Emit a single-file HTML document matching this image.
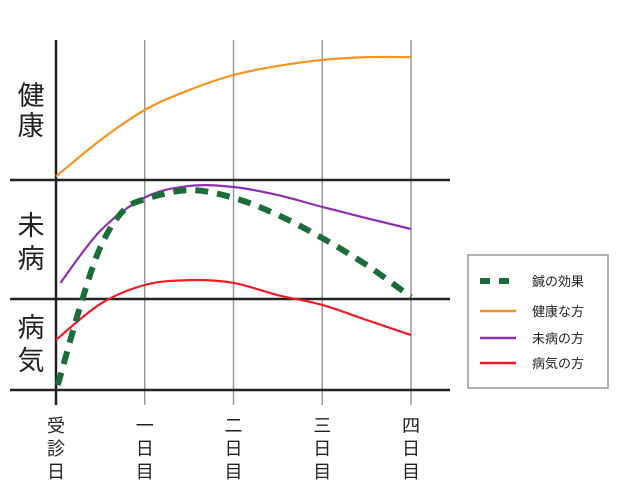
<!DOCTYPE html>
<html><head><meta charset="utf-8"><style>
body{margin:0;background:#fff;}
svg{display:block;font-family:"Liberation Sans","Noto Sans CJK JP",sans-serif;}
</style></head><body>
<svg id="chart" width="620" height="504" viewBox="0 0 620 504" xmlns="http://www.w3.org/2000/svg">
<g id="grid"></g>
<g id="series"></g>
<g id="labels"></g>
<g>
<rect x="468" y="255" width="140" height="133" fill="#fff" stroke="#999" stroke-width="1.5"/>
<line x1="480" y1="281" x2="516" y2="281" stroke="#1b6e3c" stroke-width="6" stroke-dasharray="10,9"/>
<text x="532" y="286" font-size="13" fill="#222">鍼の効果</text>
<line x1="480" y1="311" x2="516" y2="311" stroke="#f7931e" stroke-width="2.5"/>
<text x="532" y="316" font-size="13" fill="#222">健康な方</text>
<line x1="480" y1="338" x2="516" y2="338" stroke="#8e2fb0" stroke-width="2.5"/>
<text x="532" y="343" font-size="13" fill="#222">未病の方</text>
<line x1="480" y1="363" x2="516" y2="363" stroke="#ee1c25" stroke-width="2.5"/>
<text x="532" y="368" font-size="13" fill="#222">病気の方</text>
</g>
</svg>
<script>
const xCategories = ["受診日","一日目","二日目","三日目","四日目"];
const healthyX = [0,0.5,1,1.5,2,2.5,3,3.5,4];
const healthyY = [61,71.4,80,85.7,90,92.6,94.3,95.1,95.1];
const mibyoX = [0.05,0.5,1,1.5,2,2.5,3,3.5,4];
const mibyoY = [30.6,45.5,55,58.3,58,55.7,52.3,49.1,46];
const sickX = [0,0.5,1,1.5,2,2.5,3,3.5,4];
const sickY = [14.3,24.6,30,31.4,30.6,27.1,24.3,20,15.7];
const effectX = [0.02,0.27,0.5,0.75,1,1.5,2,2.5,3,3.5,4];
const effectY = [1.4,23.7,40.8,51,54.5,57.1,54.9,50,43.4,35.7,26.6];
const bandLines = [60,26,0];

const NS="http://www.w3.org/2000/svg";
const X0=56,DX=88.75,Y0=390,K=3.5;
function xs(d){return X0+d*DX;}
function ys(v){return Y0-v*K;}
function mk(tag,attrs,parent){const e=document.createElementNS(NS,tag);for(const k in attrs)e.setAttribute(k,attrs[k]);parent.appendChild(e);return e;}
const grid=document.getElementById('grid'),series=document.getElementById('series'),labels=document.getElementById('labels');
xCategories.forEach((c,i)=>{
  if(i>0){const l=mk('line',{x1:xs(i),y1:40,x2:xs(i),y2:405,stroke:'#999','stroke-width':1.5},grid);
  
  }
  const t=mk('text',{'font-size':18,fill:'#222','text-anchor':'middle'},labels);
  
  
  [...c].forEach((ch,j)=>{const ts=mk('tspan',{x:xs(i),y:432+j*23},t);ts.textContent=ch;});
});
bandLines.forEach((v,i)=>{const l=mk('line',{x1:10,y1:ys(v),x2:450,y2:ys(v),stroke:'#222','stroke-width':2.5},grid);
  
  });
const ax=mk('line',{x1:X0,y1:40,x2:X0,y2:405,stroke:'#222','stroke-width':2.5},grid);


const bandLabels=[["健康",[105,135]],["未病",[235,268]],["病気",[337,370]]];
bandLabels.forEach((b,i)=>{const t=mk('text',{'font-size':27,fill:'#222','text-anchor':'middle'},labels);
  
  
  [...b[0]].forEach((ch,j)=>{const ts=mk('tspan',{x:31,y:b[1][j]},t);ts.textContent=ch;});});
function path(X,Y){const p=X.map((x,i)=>[xs(x),ys(Y[i])]);let d='M'+p[0][0]+','+p[0][1];
  for(let i=0;i<p.length-1;i++){const a=p[i-1]||p[i],b=p[i],c=p[i+1],e=p[i+2]||c;
  d+=' C'+(b[0]+(c[0]-a[0])/6)+','+(b[1]+(c[1]-a[1])/6)+' '+(c[0]-(e[0]-b[0])/6)+','+(c[1]-(e[1]-b[1])/6)+' '+c[0]+','+c[1];}
  return d;}
const s1=mk('path',{d:path(healthyX,healthyY),fill:'none',stroke:'#f7931e','stroke-width':2.2},series);


const s2=mk('path',{d:path(mibyoX,mibyoY),fill:'none',stroke:'#8e2fb0','stroke-width':2.2},series);


const s3=mk('path',{d:path(sickX,sickY),fill:'none',stroke:'#ee1c25','stroke-width':2.2},series);


const s4=mk('path',{d:path(effectX,effectY),fill:'none',stroke:'#1b6e3c','stroke-width':6,'stroke-dasharray':'13,9'},series);


</script>
</body></html>
